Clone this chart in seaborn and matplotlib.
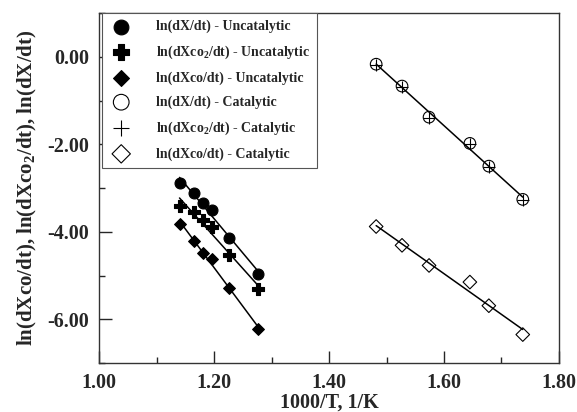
import matplotlib
matplotlib.use('Agg')
import matplotlib.pyplot as plt
import seaborn as sns
import numpy as np
from matplotlib.ticker import MultipleLocator, FormatStrFormatter

# data
x_unc = [1.140, 1.165, 1.181, 1.196, 1.226, 1.277]
lnX_unc = [-2.89, -3.12, -3.34, -3.50, -4.15, -4.96]
lnXco2_unc = [-3.40, -3.55, -3.74, -3.89, -4.54, -5.30]
lnXco_unc = [-3.82, -4.20, -4.49, -4.62, -5.29, -6.22]

x_cat = [1.482, 1.527, 1.574, 1.645, 1.678, 1.737]
lnX_cat = [-0.17, -0.67, -1.38, -1.98, -2.50, -3.26]
lnXco2_cat = [-0.19, -0.69, -1.40, -2.00, -2.52, -3.28]
lnXco_cat = [-3.88, -4.31, -4.77, -5.15, -5.69, -6.35]

sns.set_style('ticks')
plt.rcParams['font.family'] = ['Liberation Serif', 'DejaVu Serif']
plt.rcParams['font.weight'] = 'bold'
plt.rcParams['mathtext.default'] = 'regular'

fig = plt.figure(figsize=(5.77, 4.12), dpi=100)
ax = fig.add_axes([0.1716, 0.1189, 0.7972, 0.8495])

series = [
    (x_unc, lnX_unc, 'ln(dX/dt) - Uncatalytic', 'o', 'black', 62),
    (x_unc, lnXco2_unc, 'ln(dXco$_2$/dt) - Uncatalytic', 'P', 'black', 70),
    (x_unc, lnXco_unc, 'ln(dXco/dt) - Uncatalytic', 'D', 'black', 36),
    (x_cat, lnX_cat, 'ln(dX/dt) - Catalytic', 'o', 'none', 70),
    (x_cat, lnXco2_cat, 'ln(dXco$_2$/dt) - Catalytic', '+', 'black', 80),
    (x_cat, lnXco_cat, 'ln(dXco/dt) - Catalytic', 'D', 'none', 48),
]

# straight fit lines through each set
for xs, ys, lab, m, fc, s in series:
    if lab.startswith('ln(dXco$_2$/dt) - Cat'):
        continue
    k, b = np.polyfit(xs, ys, 1)
    xx = np.array([min(xs), max(xs)])
    sns.lineplot(x=xx, y=k * xx + b, ax=ax, color='black', linewidth=1.1, legend=False)

for xs, ys, lab, m, fc, s in series:
    if m == '+':
        sns.scatterplot(x=xs, y=ys, ax=ax, marker='+', color='black', s=s,
                        linewidth=0.8, label=lab, zorder=3)
    else:
        sns.scatterplot(x=xs, y=ys, ax=ax, marker=m, facecolor=fc, edgecolor='black',
                        s=s, linewidth=0.8, label=lab, zorder=3)

ax.set_xlim(1.0, 1.8)
ax.set_ylim(-7, 1)
ax.xaxis.set_major_locator(MultipleLocator(0.2))
ax.xaxis.set_minor_locator(MultipleLocator(0.1))
ax.yaxis.set_major_locator(MultipleLocator(2))
ax.yaxis.set_minor_locator(MultipleLocator(1))
ax.xaxis.set_major_formatter(FormatStrFormatter('%.2f'))
ax.yaxis.set_major_formatter(FormatStrFormatter('%.2f'))
ax.tick_params(which='major', direction='in', length=9, width=1, labelsize=14.5, pad=7)
ax.tick_params(which='minor', direction='in', length=4.5, width=1)
for lbl in ax.get_xticklabels() + ax.get_yticklabels():
    lbl.set_fontweight('bold')
for sp in ax.spines.values():
    sp.set_color('#333333')
    sp.set_linewidth(1.0)

ax.set_xlabel('1000/T, 1/K', fontsize=14.5, fontweight='bold', labelpad=0)
ax.set_ylabel('ln(dXco/dt), ln(dXco$_2$/dt), ln(dX/dt)', fontsize=15,
              fontweight='bold', labelpad=6)

leg = ax.legend(loc='upper left', bbox_to_anchor=(0.006, 1.0), borderaxespad=0,
                fancybox=False, framealpha=1, edgecolor='#555555',
                prop={'family': 'Liberation Serif', 'weight': 'bold', 'size': 10},
                markerscale=1.35, labelspacing=0.75, handletextpad=1.6,
                borderpad=0.5, handlelength=1.8)
leg.get_frame().set_linewidth(0.8)

fig.savefig('out.png', dpi=100)
